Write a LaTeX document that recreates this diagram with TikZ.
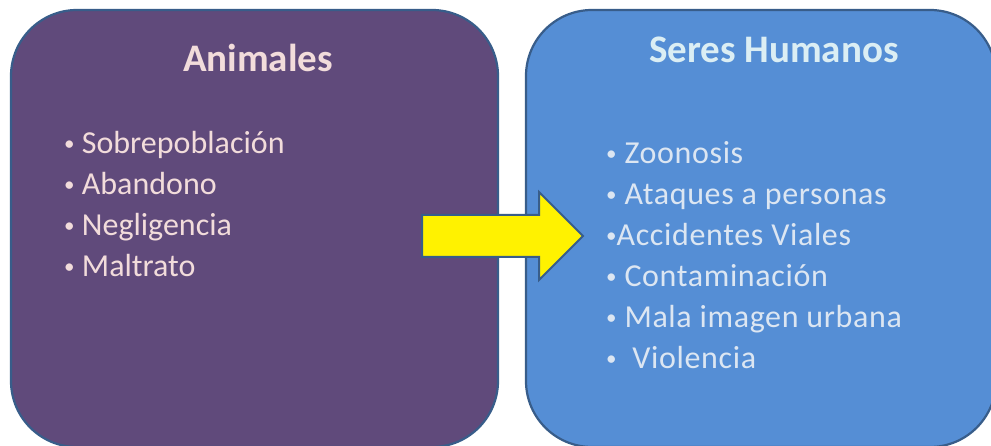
\documentclass[tikz,border=0pt]{standalone}
\usepackage{fontspec}
\setmainfont{Carlito}
\usepackage{tikz}
\usetikzlibrary{matrix}
\definecolor{animalfill}{HTML}{604A7B}
\definecolor{humanfill}{HTML}{558ED5}
\definecolor{edgeblue}{HTML}{385D8A}
\definecolor{animaltext}{HTML}{F2DCDB}
\definecolor{humantext}{HTML}{DBEEF4}
\definecolor{humanitem}{HTML}{DCE6F2}
\newcommand{\vineta}{\raisebox{3.5pt}{\fontsize{21}{21}\selectfont •}}

\begin{document}
\begin{tikzpicture}[x=1pt, y=1pt,
	panel/.style={draw=edgeblue, line width=2.2pt, rounded corners=66pt, inner sep=0pt},
	heading/.style={font=\fontsize{39}{40}\selectfont\bfseries, anchor=base, inner sep=0pt},
	itemlist/.style={matrix of nodes, inner sep=0pt, row sep=0pt,
		nodes={anchor=base west, inner sep=0pt, text height=0pt, text depth=0pt, font=\fontsize{32}{40}\selectfont}}
]
\useasboundingbox (0,0) rectangle (991,446);
\node (animales) [panel, fill=animalfill, minimum width=487pt, minimum height=437pt] at (254.5,217.5) {};
\node (humanos) [panel, fill=humanfill, minimum width=470pt, minimum height=437pt] at (761,217.5) {};

\node (tanimales) [heading, text=animaltext] at (258,374) {Animales};
\node (thumanos) [heading, text=humantext] at (774,383) {Seres Humanos};

\matrix (causas) [itemlist, nodes={text=animaltext}, anchor=north west, row sep=40pt] at (64,293)
{
	\vineta\ Sobrepoblación \\
	\vineta\ Abandono \\
	\vineta\ Negligencia \\
	\vineta\ Maltrato \\
};
\matrix (efectos) [itemlist, nodes={text=humanitem, font=\fontsize{32}{40}\selectfont\addfontfeatures{LetterSpace=2}}, anchor=north west, row sep=40pt] at (606,283)
{
	\vineta\ Zoonosis \\
	\vineta\ Ataques a personas \\
	\vineta Accidentes Viales \\
	\vineta\ Contaminación \\
	\vineta\ Mala imagen urbana \\
	\vineta~\ Violencia \\
};

% flecha de causas a efectos
\draw[draw=edgeblue, line width=2pt, fill=yellow, line join=miter]
	(422,231) -- (539,231) -- (539,254) -- (583,210) -- (539,166) -- (539,189) -- (422,189) -- cycle;
\end{tikzpicture}
\end{document}
